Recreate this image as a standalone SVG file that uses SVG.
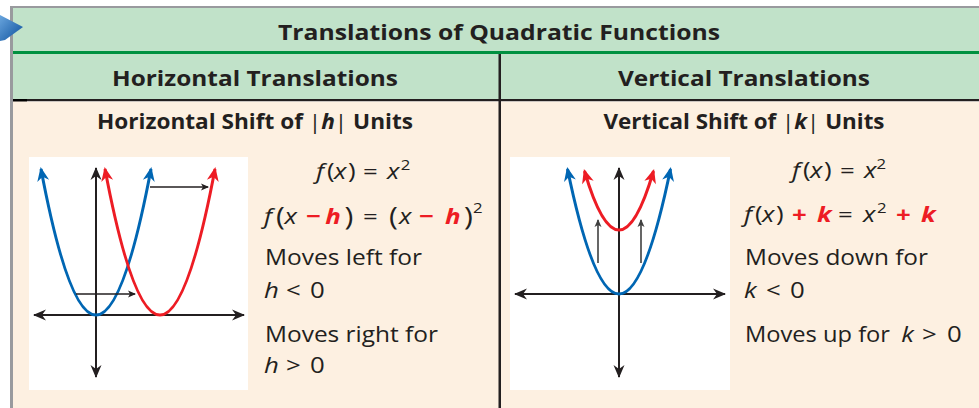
<svg xmlns="http://www.w3.org/2000/svg" width="979" height="408" viewBox="0 0 979 408">
<defs>
<style>
.hd{font-family:"Open Sans","Liberation Sans",sans-serif;font-weight:bold;font-size:21px;fill:#231f20;text-anchor:middle}
.sb{font-family:"Open Sans","Liberation Sans",sans-serif;font-weight:bold;font-size:20.5px;fill:#231f20;text-anchor:middle}
.bd{font-family:"Open Sans","Liberation Sans",sans-serif;font-size:21.5px;fill:#231f20}
.it{font-style:italic}
.rd{fill:#ed1c24;font-weight:bold}
.sup{font-size:14px}
.bp{font-size:25px}
.bl{fill:none;stroke:#0066b3;stroke-width:3}
.rc{fill:none;stroke:#ed1c24;stroke-width:3}
.ax{fill:none;stroke:#231f20;stroke-width:2}
.sm{fill:none;stroke:#231f20;stroke-width:1.3}
.smg{fill:none;stroke:#404040;stroke-width:1.6}
</style>
<linearGradient id="bg" x1="0" y1="0" x2="1" y2="1">
<stop offset="0" stop-color="#6aa6de"/><stop offset="1" stop-color="#0b4f9c"/>
</linearGradient>
<marker id="mb" markerUnits="userSpaceOnUse" markerWidth="20" markerHeight="16" viewBox="-16 -8 20 16" refX="0" refY="0" orient="auto-start-reverse" overflow="visible"><path d="M2,0 L-12,-6 L-8,0 L-12,6 z" fill="#0066b3"/></marker>
<marker id="mr" markerUnits="userSpaceOnUse" markerWidth="20" markerHeight="16" viewBox="-16 -8 20 16" refX="0" refY="0" orient="auto-start-reverse" overflow="visible"><path d="M2,0 L-12,-6 L-8,0 L-12,6 z" fill="#ed1c24"/></marker>
<marker id="mk" markerUnits="userSpaceOnUse" markerWidth="20" markerHeight="16" viewBox="-16 -8 20 16" refX="0" refY="0" orient="auto-start-reverse" overflow="visible"><path d="M1,0 L-12,-5.5 L-8,0 L-12,5.5 z" fill="#231f20"/></marker>
<marker id="ms" markerUnits="userSpaceOnUse" markerWidth="12" markerHeight="10" viewBox="-8 -5 12 10" refX="0" refY="0" orient="auto" overflow="visible"><path d="M1,0 L-7,-3.5 L-5,0 L-7,3.5 z" fill="#231f20"/></marker>
<marker id="mg" markerUnits="userSpaceOnUse" markerWidth="12" markerHeight="10" viewBox="-8 -5 12 10" refX="0" refY="0" orient="auto" overflow="visible"><path d="M1,0 L-7,-3.5 L-5,0 L-7,3.5 z" fill="#404040"/></marker>
</defs>
<rect x="0" y="0" width="979" height="408" fill="#ffffff"/>
<g id="table">
<rect x="10" y="6" width="969" height="402" fill="#999a9e"/>
<rect x="13" y="8" width="966" height="43" fill="#c1e2c9"/>
<rect x="13" y="51" width="966" height="3" fill="#009140"/>
<rect x="13" y="54" width="966" height="45" fill="#c1e2c9"/>
<rect x="13" y="99" width="966" height="2" fill="#231f20"/>
<rect x="13" y="99" width="14" height="3" fill="#000000"/>
<rect x="13" y="101.5" width="966" height="306.5" fill="#fdf0e1"/>
<rect x="498.5" y="54" width="2.5" height="354" fill="#231f20"/>
<polygon points="0,15 23,27 5,40 0,41" fill="url(#bg)"/>
</g>
<g id="title"><text class="hd" x="499" y="40" textLength="442" lengthAdjust="spacingAndGlyphs">Translations of Quadratic Functions</text></g>
<g id="col-h-head"><text class="hd" x="255" y="86" textLength="286" lengthAdjust="spacingAndGlyphs">Horizontal Translations</text></g>
<g id="col-v-head"><text class="hd" x="744" y="86" textLength="252" lengthAdjust="spacingAndGlyphs">Vertical Translations</text></g>
<g id="sub-h"><text class="sb" x="255" y="129" textLength="316" lengthAdjust="spacingAndGlyphs">Horizontal Shift of <tspan font-weight="normal">|</tspan><tspan class="it">h</tspan><tspan font-weight="normal">|</tspan> Units</text></g>
<g id="sub-v"><text class="sb" x="744" y="129" textLength="281" lengthAdjust="spacingAndGlyphs">Vertical Shift of <tspan font-weight="normal">|</tspan><tspan class="it">k</tspan><tspan font-weight="normal">|</tspan> Units</text></g>

<g id="graph-h">
<rect x="29" y="157" width="219" height="233" fill="#ffffff"/>
<g id="connectors-h">
<path class="ax" d="M96,314 L96,168" marker-end="url(#mk)"/>
<path class="ax" d="M96,314 L96,377" marker-end="url(#mk)"/>
<path class="ax" d="M96,315 L34,315" marker-end="url(#mk)"/>
<path class="ax" d="M96,315 L244,315" marker-end="url(#mk)"/>
<path class="bl" d="M41,169 Q96,461 151,169" marker-start="url(#mb)" marker-end="url(#mb)"/>
<path class="rc" d="M105,169 Q160,461 215,169" marker-start="url(#mr)" marker-end="url(#mr)"/>
<path class="sm" d="M150,187 L208,187" marker-end="url(#ms)"/>
<path class="sm" d="M76,294 L135,294" marker-end="url(#ms)"/>
</g>
</g>
<g id="text-h">
<text class="bd" y="179" transform="scale(1.2,1)"><tspan class="it" x="263.3">f</tspan><tspan x="272.5">(</tspan><tspan class="it" x="278.3">x</tspan><tspan x="290">)</tspan><tspan x="302.5">=</tspan><tspan class="it" x="322.5">x</tspan><tspan class="sup" x="334" dy="-9">2</tspan></text>
<text class="bd" y="224" transform="scale(1.2,1)"><tspan class="it" x="220">f</tspan><tspan class="bp" x="230" dy="1">(</tspan><tspan class="it" x="237" dy="-1">x</tspan><tspan class="rd" x="255">−</tspan><tspan class="rd it" x="271">h</tspan><tspan class="bp" x="287" dy="1">)</tspan><tspan x="302.5" dy="-1">=</tspan><tspan class="bp" x="324.2" dy="1">(</tspan><tspan class="it" x="332.5" dy="-1">x</tspan><tspan class="rd" x="349.2">−</tspan><tspan class="rd it" x="370.8">h</tspan><tspan class="bp" x="386.7" dy="1">)</tspan><tspan class="sup" x="394.2" dy="-12">2</tspan></text>
<text class="bd" x="265" y="265" textLength="157" lengthAdjust="spacingAndGlyphs">Moves left for</text>
<text class="bd" y="298" transform="scale(1.2,1)"><tspan class="it" x="220">h</tspan><tspan x="238.3">&lt;</tspan><tspan x="258.3">0</tspan></text>
<text class="bd" x="265" y="342" textLength="173" lengthAdjust="spacingAndGlyphs">Moves right for</text>
<text class="bd" y="373" transform="scale(1.2,1)"><tspan class="it" x="220">h</tspan><tspan x="238.3">&gt;</tspan><tspan x="258.3">0</tspan></text>
</g>

<g id="graph-v">
<rect x="510" y="157" width="220" height="233" fill="#ffffff"/>
<g id="connectors-v">
<path class="ax" d="M619,293 L619,168" marker-end="url(#mk)"/>
<path class="ax" d="M619,293 L619,377" marker-end="url(#mk)"/>
<path class="ax" d="M619,294 L515,294" marker-end="url(#mk)"/>
<path class="ax" d="M619,294 L725,294" marker-end="url(#mk)"/>
<path class="bl" d="M567.5,169 Q619,419 670.5,169" marker-start="url(#mb)" marker-end="url(#mb)"/>
<path class="rc" d="M584.5,171 Q619,289 653.5,171" marker-start="url(#mr)" marker-end="url(#mr)"/>
<path class="smg" d="M598,263 L598,220" marker-end="url(#mg)"/>
<path class="smg" d="M641,263 L641,220" marker-end="url(#mg)"/>
</g>
</g>
<g id="text-v">
<text class="bd" y="178" transform="scale(1.2,1)"><tspan class="it" x="660">f</tspan><tspan x="669.2">(</tspan><tspan class="it" x="675">x</tspan><tspan x="686.7">)</tspan><tspan x="700">=</tspan><tspan class="it" x="720">x</tspan><tspan class="sup" x="730.5" dy="-9">2</tspan></text>
<text class="bd" y="222" transform="scale(1.2,1)"><tspan class="it" x="620">f</tspan><tspan x="629.2">(</tspan><tspan class="it" x="635">x</tspan><tspan x="646.7">)</tspan><tspan class="rd" x="660">+</tspan><tspan class="rd it" x="680.8">k</tspan><tspan x="698.3">=</tspan><tspan class="it" x="719.2">x</tspan><tspan class="sup" x="730.8" dy="-9">2</tspan><tspan class="rd" x="746.7" dy="9">+</tspan><tspan class="rd it" x="767.5">k</tspan></text>
<text class="bd" x="745" y="265" textLength="183" lengthAdjust="spacingAndGlyphs">Moves down for</text>
<text class="bd" y="298" transform="scale(1.2,1)"><tspan class="it" x="620">k</tspan><tspan x="638.3">&lt;</tspan><tspan x="658.3">0</tspan></text>
<text class="bd" x="745" y="342" textLength="145" lengthAdjust="spacingAndGlyphs">Moves up for</text>
<text class="bd" y="342" transform="scale(1.2,1)"><tspan class="it" x="751">k</tspan><tspan x="768.3">&gt;</tspan><tspan x="789.2">0</tspan></text>
</g>
</svg>
